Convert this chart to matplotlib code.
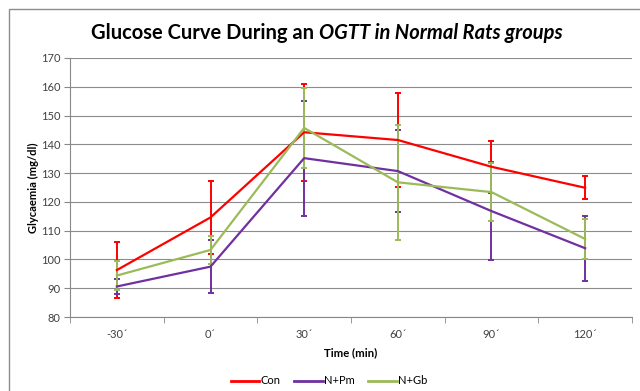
import matplotlib
matplotlib.use("Agg")
import matplotlib.pyplot as plt
from matplotlib.patches import Rectangle
from matplotlib.lines import Line2D
import numpy as np

plt.rcParams['font.family'] = ['Lato', 'DejaVu Sans']

categories = ["-30´", "0´", "30´", "60´", "90´", "120´"]
con = [96.3, 114.6, 144.2, 141.5, 132.2, 124.9]
con_err = [9.8, 12.7, 16.8, 16.5, 9.0, 4.0]
pm = [90.6, 97.5, 135.2, 130.7, 116.8, 103.9]
pm_err = [2.7, 9.3, 20.0, 14.2, 16.9, 11.3]
gb = [94.4, 103.3, 145.7, 126.8, 123.4, 107.1]
gb_err = [5.1, 4.8, 14.0, 20.0, 10.0, 7.0]

series = [("Con", con, con_err, "#FF0000"),
          ("N+Pm", pm, pm_err, "#7030A0"),
          ("N+Gb", gb, gb_err, "#9BBB59")]

W, H = 640, 391
fig = plt.figure(figsize=(W/100, H/100), dpi=100)
ax = fig.add_axes([70/W, 1-317/H, (632-70)/W, (317-58)/H])

# outer chart frame
fig.patches.append(Rectangle((8.5/W, -0.1), 1.2, 1.1 - 8.5/H, transform=fig.transFigure,
                             fill=False, edgecolor="#8c8c8c", linewidth=1.0))

x = np.arange(len(categories))
handles = []
for name, vals, err, col in series:
    ax.errorbar(x, vals, yerr=err, color=col, linewidth=1.6, elinewidth=1.4,
                capsize=2.5, capthick=1.4, zorder=3)
    handles.append(Line2D([], [], color=col, linewidth=2, label=name))

ax.set_xlim(-0.5, len(categories) - 0.5)
ax.set_ylim(80, 170)
ax.set_yticks(np.arange(80, 171, 10))
ax.set_xticks(x)
ax.set_xticklabels(categories)
ax.set_xticks(np.arange(-0.5, len(categories), 1), minor=True)
ax.tick_params(axis='x', which='major', length=0, pad=9, labelsize=8, labelcolor="#404040")
ax.tick_params(axis='x', which='minor', length=4, color="#888888", direction='out')
ax.tick_params(axis='y', length=4, color="#888888", labelsize=8, labelcolor="#404040", pad=3)
ax.grid(axis='y', color="#8c8c8c", linewidth=0.8)
ax.set_axisbelow(True)
for s in ['top', 'right']:
    ax.spines[s].set_visible(False)
for s in ['left', 'bottom']:
    ax.spines[s].set_color("#888888")
    ax.spines[s].set_linewidth(0.8)

ax.set_xlabel("Time (min)", fontsize=8.2, fontweight='bold', labelpad=5)
fig.text(33/W, 1-188/H, "Glycaemia (mg/dl)", rotation=90, fontsize=8,
         fontweight='bold', ha='center', va='center')

fig.legend(handles=handles, loc='center', bbox_to_anchor=(329/W, 1-381/H), ncol=3,
           frameon=False, fontsize=8, handlelength=2.6, columnspacing=1.2,
           handletextpad=0.1)

# title with mixed styles
fig.canvas.draw()
r = fig.canvas.get_renderer()
t1 = fig.text(0, 1-33/H, "Glucose Curve During an ", fontsize=14.5, fontweight='bold',
              ha='left', va='center')
t2 = fig.text(0, 1-33/H, "OGTT in Normal Rats groups", fontsize=14.5, fontweight='bold',
              style='italic', ha='left', va='center')
w1 = t1.get_window_extent(r).width
w2 = t2.get_window_extent(r).width
start = 327 - (w1 + w2) / 2
t1.set_x(start / W)
t2.set_x((start + w1) / W)

fig.savefig("out.png", dpi=100)
